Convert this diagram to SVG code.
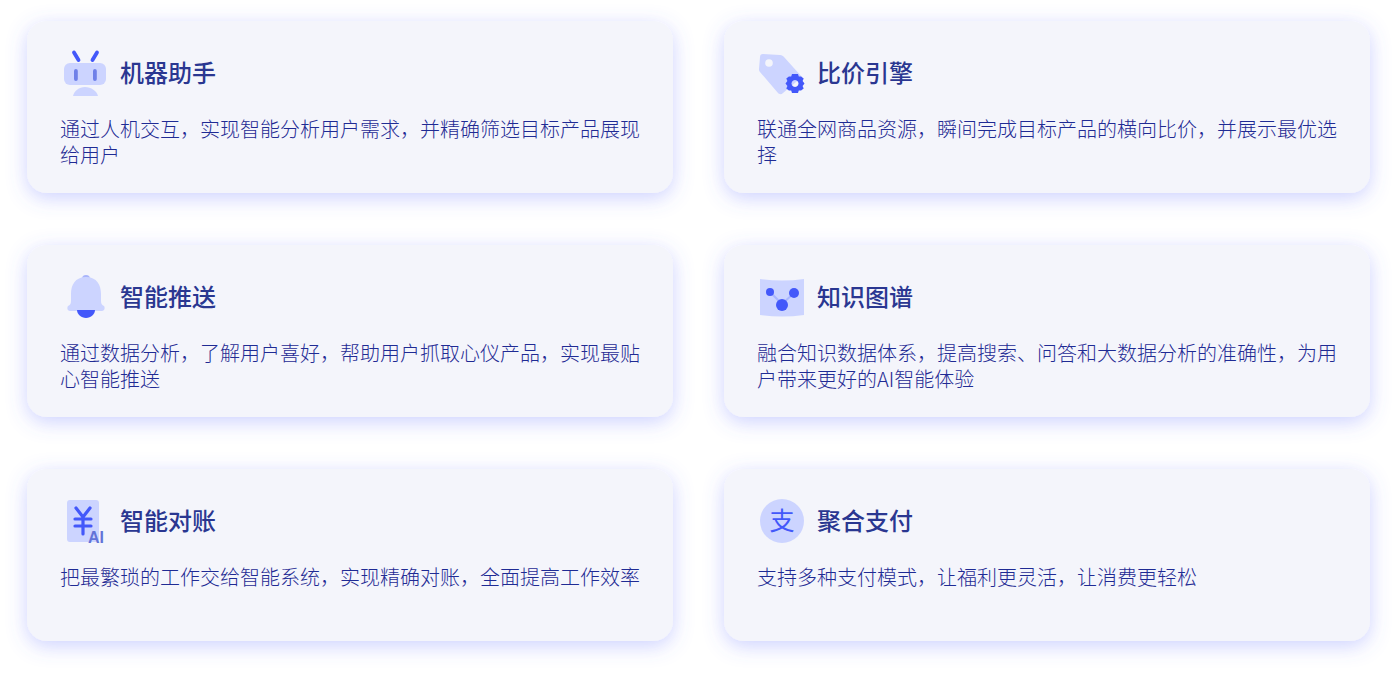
<svg xmlns="http://www.w3.org/2000/svg" width="1398" height="677" viewBox="0 0 1398 677">
<defs>
<style>
text{font-family:"Noto Sans CJK SC","Noto Sans",sans-serif}
.card{fill:#f4f5fb;filter:url(#sh)}
.t{font-size:24px;font-weight:500;fill:#2a3791}
.b{font-size:20px;font-weight:300;fill:#1f2b94}
.l{fill:#ccd4ff}
.d{fill:#4358fa}
</style>
<filter id="sh" x="-15%" y="-40%" width="130%" height="180%"><feDropShadow dx="0" dy="5" stdDeviation="10" flood-color="#5a6cff" flood-opacity="0.3"/></filter>
</defs>
<rect width="1398" height="677" fill="#fff"/>
<g id="connectors"/>
<g id="card-robot">
<rect class="card" x="27" y="21" width="646" height="172" rx="20"/>
<path d="M74 52.500l4.500 7.500M97 52.500l-4.500 7.500" stroke="#4358fa" stroke-width="3.800" stroke-linecap="round" fill="none"/>
<rect class="l" x="64" y="63" width="42" height="22" rx="6"/>
<rect x="74" y="69" width="3.800" height="12" rx="1.900" fill="#6f80e8"/>
<rect x="93" y="69" width="3.800" height="12" rx="1.900" fill="#6f80e8"/>
<path class="l" d="M73 96c1-5 6-9 12-9s12 4 13 9z"/>
<text class="t" x="120" y="82">机器助手</text>
<text class="b" x="60" y="137">通过人机交互，实现智能分析用户需求，并精确筛选目标产品展现</text>
<text class="b" x="60" y="163">给用户</text>
</g>
<g id="card-compare">
<rect class="card" x="724" y="21" width="646" height="172" rx="20"/>
<path class="l" d="M763 54l17 1c2 0 3 1 4 2l18 20-19 16c-2 2-4 1-5 0l-18-21c-1-1-1-2-1-3l1-12c0-2 1-3 3-3z"/>
<circle cx="769" cy="63" r="3.800" fill="#f4f5fb"/>
<path class="d" fill-rule="evenodd" d="M792 74h6l.8 2.600 2.300.0 2.600 1.800-1.100 2.600 1.900 2.500-1.900 2.500 1.100 2.600-2.600 1.800-2.300 0-.8 2.600h-6l-.8-2.600-2.300 0-2.600-1.800 1.100-2.600-1.900-2.500 1.900-2.500-1.100-2.600 2.600-1.800 2.300 0zM795 80a3.500 3.500 0 1 0 .01 0z"/>
<text class="t" x="817" y="82">比价引擎</text>
<text class="b" x="757" y="137">联通全网商品资源，瞬间完成目标产品的横向比价，并展示最优选</text>
<text class="b" x="757" y="163">择</text>
</g>
<g id="card-push">
<rect class="card" x="27" y="245" width="646" height="172" rx="20"/>
<circle cx="86" cy="279" r="4" fill="#a9b5fb"/>
<path class="l" d="M86 277c-11 0-15 8-15 17v7c0 3-1 4-3 5-1 1-1 5 2 5h32c3 0 3-4 2-5-2-1-3-2-3-5v-7c0-9-4-17-15-17z"/>
<path class="d" d="M77 310h18c0 4-4 8-9 8s-9-4-9-8z"/>
<text class="t" x="120" y="306">智能推送</text>
<text class="b" x="60" y="361">通过数据分析，了解用户喜好，帮助用户抓取心仪产品，实现最贴</text>
<text class="b" x="60" y="387">心智能推送</text>
</g>
<g id="card-graph">
<rect class="card" x="724" y="245" width="646" height="172" rx="20"/>
<path class="l" d="M760 279q22 3 44 0v36q-22 3-44 0z"/>
<path d="M770 292l12 12 12-11" stroke="#aab6ff" stroke-width="2" fill="none"/>
<circle class="d" cx="770" cy="292" r="4"/>
<circle class="d" cx="794" cy="293" r="5"/>
<circle class="d" cx="782" cy="305" r="6"/>
<text class="t" x="817" y="306">知识图谱</text>
<text class="b" x="757" y="361">融合知识数据体系，提高搜索、问答和大数据分析的准确性，为用</text>
<text class="b" x="757" y="387">户带来更好的AI智能体验</text>
</g>
<g id="card-bill">
<rect class="card" x="27" y="469" width="646" height="172" rx="20"/>
<rect class="l" x="67" y="500" width="32" height="42" rx="3"/>
<path d="M76 508l7 9 7-9M75 519h16M75 526h16M83 517v17" stroke="#4358fa" stroke-width="3.200" stroke-linecap="round" stroke-linejoin="round" fill="none"/>
<text x="88" y="543" font-size="16" font-weight="700" fill="#6373d8" style="font-family:'Liberation Sans',sans-serif">AI</text>
<text class="t" x="120" y="530">智能对账</text>
<text class="b" x="60" y="585">把最繁琐的工作交给智能系统，实现精确对账，全面提高工作效率</text>
</g>
<g id="card-pay">
<rect class="card" x="724" y="469" width="646" height="172" rx="20"/>
<circle class="l" cx="782" cy="521" r="22"/>
<text x="782" y="530" text-anchor="middle" font-size="25" fill="#4358fa">支</text>
<text class="t" x="817" y="530">聚合支付</text>
<text class="b" x="757" y="585">支持多种支付模式，让福利更灵活，让消费更轻松</text>
</g>
</svg>
